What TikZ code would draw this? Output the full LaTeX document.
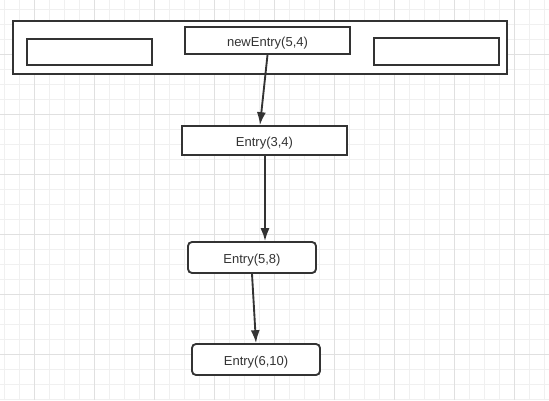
\documentclass[tikz,border=0pt]{standalone}
\usepackage{fontspec}
\setmainfont{Liberation Sans}
\usetikzlibrary{arrows.meta, positioning, calc}
\definecolor{inkgray}{RGB}{51,51,51}
\definecolor{minorline}{RGB}{240,240,240}
\definecolor{majorline}{RGB}{224,224,224}

\begin{document}
\begin{tikzpicture}[
  x = 0.75pt, y = -0.75pt,
  > = {Latex[length=3.4mm, width=2.4mm]},
  every node/.style = {font=\fontsize{9.75}{12}\selectfont, text=inkgray},
  minor grid/.style = {minorline, line width=0.75pt},
  major grid/.style = {majorline, line width=0.75pt},
  slot box/.style = {draw=inkgray, line width=1.4pt, fill=white, inner sep=0pt,
    text height=9.2pt, text depth=0pt},
  entry box/.style = {slot box, rounded corners=3pt},
  link arrow/.style = {->, draw=inkgray, line width=1.4pt}
]
  \fill[white] (0,0) rectangle (549,400);
  \useasboundingbox (0,0) rectangle (549,400);

  % background grid
  \foreach \gx in {4,19,...,549} \draw[minor grid] (\gx,0) -- (\gx,400);
  \foreach \gy in {9,24,...,399} \draw[minor grid] (0,\gy) -- (549,\gy);
  \foreach \gx in {34,94,...,514} \draw[major grid] (\gx,0) -- (\gx,400);
  \foreach \gy in {54,114,...,354} \draw[major grid] (0,\gy) -- (549,\gy);

  % table with its slots
  \node[slot box, minimum width=370.5pt, minimum height=39.75pt] (table) at (260,47.5) {};
  \node[slot box, minimum width=93.75pt, minimum height=19.5pt] (slotleft) at (89.5,52) {};
  \node[slot box, minimum width=123.75pt, minimum height=20.25pt] (newentry) at (267.5,40.5) {newEntry(5,4)};
  \node[slot box, minimum width=93.75pt, minimum height=20.25pt] (slotright) at (436.5,51.5) {};

  % chain of entries
  \node[slot box, minimum width=123.75pt, minimum height=21.75pt] (entrya) at (264.5,140.5) {Entry(3,4)};
  \node[entry box, minimum width=96pt, minimum height=23.25pt] (entryb) at (252,257.5) {Entry(5,8)};
  \node[entry box, minimum width=96pt, minimum height=23.25pt] (entryc) at (256,359.5) {Entry(6,10)};

  \draw[link arrow] (newentry.south) -- ($(entrya.north)+(-4.5,0)$);
  \draw[link arrow] ($(entrya.south)+(0.5,0)$) -- ($(entryb.north)+(13,0)$);
  \draw[link arrow] (entryb.south) -- (entryc.north);
\end{tikzpicture}
\end{document}
